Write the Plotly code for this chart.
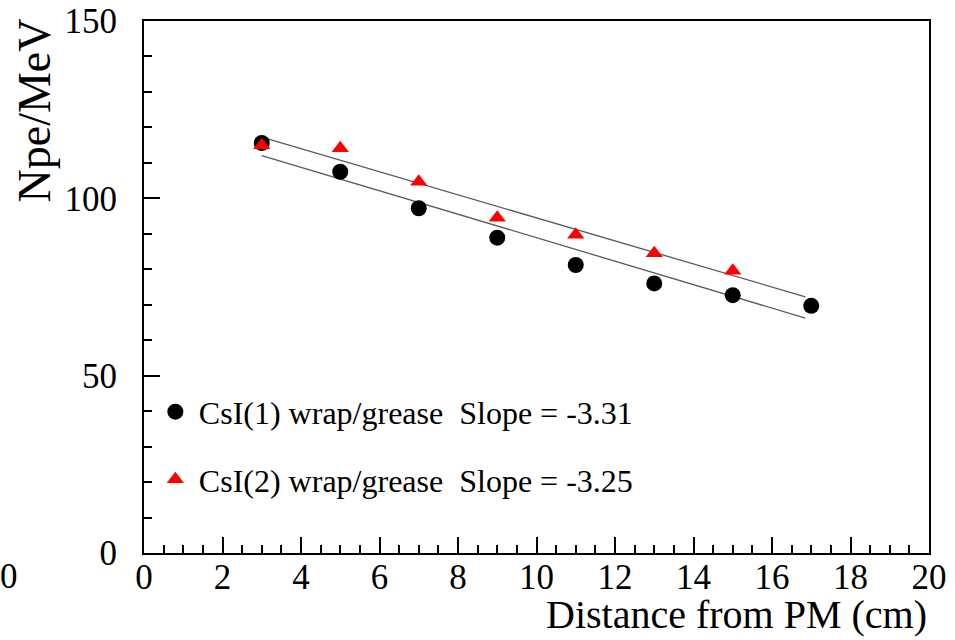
import numpy as np
import plotly.graph_objects as go

# Distance of the source from the photomultiplier (cm)
dist_csi1 = [3, 5, 7, 9, 11, 13, 15, 17]
npe_csi1 = [115.6, 107.5, 97.2, 88.9, 81.2, 76.0, 72.7, 69.7]

dist_csi2 = [3, 5, 7, 9, 11, 13, 15]
npe_csi2 = [115.0, 114.1, 104.7, 94.5, 89.7, 84.5, 79.6]

# Linear fits: Npe/MeV = intercept + slope * distance
fit_slope = [-3.31, -3.25]
fit_intercept = [122.0, 127.0]
fit_range = [3.0, 16.85]

series_names = [
    "CsI(1) wrap/grease\u00a0 Slope = -3.31",
    "CsI(2) wrap/grease\u00a0 Slope = -3.25",
]

x_ticks = list(range(0, 21, 2))
y_ticks = [0, 50, 100, 150]

SERIF = "Liberation Serif, Times New Roman, serif"

fig = go.Figure()

# fitted lines
for slope, icpt in zip(fit_slope, fit_intercept):
    xs = np.array(fit_range)
    fig.add_trace(go.Scatter(
        x=xs, y=icpt + slope * xs, mode="lines",
        line=dict(color="#5a5a5a", width=1.3),
        showlegend=False, hoverinfo="skip",
    ))

fig.add_trace(go.Scatter(
    x=dist_csi1, y=npe_csi1, mode="markers", name=series_names[0],
    marker=dict(symbol="circle", size=16, color="black"),
    legendgroup="a",
))
fig.add_trace(go.Scatter(
    x=dist_csi2, y=npe_csi2, mode="markers", name=series_names[1],
    marker=dict(symbol="triangle-up", size=15, color="red"),
    legendgroup="b",
))

axis_common = dict(
    showgrid=False, zeroline=False, automargin=False,
    showline=True, linecolor="black", linewidth=2, mirror=True,
    ticks="inside", tickcolor="black", tickwidth=1.5,
    tickfont=dict(family=SERIF, size=35, color="black"),
)

fig.update_xaxes(
    range=[0, 20], tickvals=x_ticks, ticklen=16,
    minor=dict(dtick=0.5, ticklen=8, ticks="inside", tickcolor="black", tickwidth=1.5),
    ticklabelstandoff=-8,
    **axis_common,
)
fig.update_yaxes(
    range=[0, 150], tickvals=y_ticks, ticklen=16,
    minor=dict(dtick=10, ticklen=8, ticks="inside", tickcolor="black", tickwidth=1.5),
    ticklabelstandoff=18,
    **axis_common,
)

fig.add_annotation(
    text="Npe/MeV", xref="paper", yref="paper", x=-0.14, y=0.832,
    xanchor="center", yanchor="middle", textangle=-90, showarrow=False,
    font=dict(family=SERIF, size=46, color="black"),
)
fig.add_annotation(
    text="Distance from PM (cm)", xref="paper", yref="paper", x=1.0, y=-0.116,
    xanchor="right", yanchor="middle", showarrow=False,
    font=dict(family=SERIF, size=40, color="black"),
)
fig.add_annotation(
    text="0", xref="paper", yref="paper", x=-0.172, y=-0.045,
    xanchor="center", yanchor="middle", showarrow=False,
    font=dict(family=SERIF, size=35, color="black"),
)

fig.update_layout(
    width=955, height=640, autosize=False,
    margin=dict(l=143.5, r=26, t=21, b=87),
    paper_bgcolor="white", plot_bgcolor="white",
    showlegend=True,
    legend=dict(
        x=0.01, y=0.317, xanchor="left", yanchor="top",
        bgcolor="rgba(0,0,0,0)", borderwidth=0,
        font=dict(family=SERIF, size=32, color="black"),
        traceorder="grouped", tracegroupgap=23, itemwidth=37,
    ),
)

fig.write_html("out.html")
